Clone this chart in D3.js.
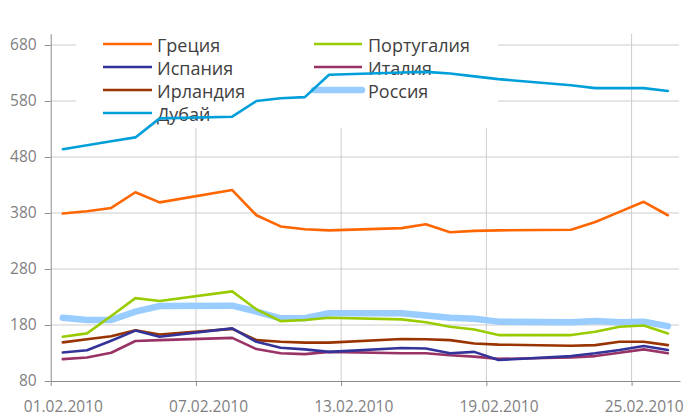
<!DOCTYPE html>
<html><head><meta charset="utf-8">
<script src="https://cdn.jsdelivr.net/npm/d3@7"></script>
<style>
html,body{margin:0;padding:0;background:#fff;}
svg{display:block;font-family:"Open Sans",sans-serif;}
</style></head>
<body><svg id="c" width="686" height="416"></svg>
<script>
const days = [1,2,3,4,5,8,9,10,11,12,15,16,17,18,19,22,23,24,25,26];
const greece   = [379,383,389,417,399,421,376,356,351,349,353,360,345.5,348,349,350,364,382,400,376];
const portugal = [159,165,196,228,223,240,208,187,189,193,190,185,177,172,162,162,168,177,179,165];
const spain    = [131,135,152,170,159,174,150,139.5,136.5,132,139,138,129.5,132,117.5,124.5,129.5,135.5,142.5,135.5];
const italy    = [119,122,130.5,151.5,153,157,137,129.5,128,132,129.5,129.5,126,123.5,119.5,122,124.5,130.5,136.5,129.5];
const ireland  = [149,154.5,160,170.5,163,173,153,150,148.5,148.5,155,154.5,153,147,145,143,144,150,150,144];
const russia   = [193,189,189,204,214,214.5,204,192,192,201,201,197,193,191,186,185,187,185,186,178];
const dubai    = [494,501,508,515,549,552,580,585,587,627,631,632,629,624,619,608,603,603,603,598];
const seriesNames = ["Греция","Португалия","Испания","Италия","Ирландия","Россия","Дубай"];
const yTicks = [80,180,280,380,480,580,680];
const xTickDays = [1,7,13,19,25];

const colors = {"Греция":"#ff6600","Португалия":"#99cc00","Испания":"#333399","Италия":"#993366","Ирландия":"#993300","Россия":"#99ccff","Дубай":"#009fda"};
const widths = {"Россия":6.5};
const valuesBy = {"Греция":greece,"Португалия":portugal,"Испания":spain,"Италия":italy,"Ирландия":ireland,"Россия":russia,"Дубай":dubai};

const svg = d3.select("#c");
const dayStart = d => new Date(2010,1,d);
const dayMid = d => new Date(2010,1,d,12);
const x = d3.scaleTime().domain([dayStart(1), dayStart(27)]).range([50.7, 680]);
const y = d3.scaleLinear().domain([80,700]).range([381, 33.8]);

// gridlines
const g = svg.append("g");
g.selectAll("line.h").data(yTicks.slice(1)).join("line")
  .attr("x1",x.range()[0]).attr("x2",679).attr("y1",d=>y(d)).attr("y2",d=>y(d))
  .attr("stroke","#cccccc").attr("stroke-width",1);
g.selectAll("line.v").data(xTickDays.slice(1)).join("line")
  .attr("x1",d=>x(dayStart(d))).attr("x2",d=>x(dayStart(d))).attr("y1",y(700)).attr("y2",y(80))
  .attr("stroke","#cccccc").attr("stroke-width",1);

// legend background
svg.append("rect").attr("x",76).attr("y",28).attr("width",422).attr("height",100).attr("fill","#fff");

// axes
const yAxis = svg.append("g").attr("transform",`translate(${x.range()[0]},0)`)
  .call(d3.axisLeft(y).tickValues(yTicks).tickSizeInner(6).tickSizeOuter(0).tickPadding(8));
const xAxis = svg.append("g").attr("transform",`translate(0,${y(80)})`)
  .call(d3.axisBottom(x).tickValues(xTickDays.map(dayStart)).tickFormat(d3.timeFormat("%d.%m.%Y"))
    .tickSizeInner(5).tickSizeOuter(0).tickPadding(15));
xAxis.selectAll("text").attr("dx", x(dayMid(1)) - x(dayStart(1)));
[yAxis,xAxis].forEach(a=>{
  a.select(".domain").attr("stroke","#8c8c8c");
  a.selectAll(".tick line").attr("stroke","#8c8c8c");
  a.selectAll("text").attr("fill","#7f7f7f").style("font-size","15.5px").style("font-family","'Open Sans',sans-serif");
});

// legend
const legendCols = [["Греция","Испания","Ирландия","Дубай"],["Португалия","Италия","Россия"]];
const colX = [[103,152,157],[314,362,368]];
const lg = svg.append("g");
legendCols.forEach((col,ci)=>{
  col.forEach((name,ri)=>{
    const cy = 44 + ri*23;
    lg.append("line").attr("x1",colX[ci][0]).attr("x2",colX[ci][1]).attr("y1",cy).attr("y2",cy)
      .attr("stroke",colors[name]).attr("stroke-width",widths[name]||2.6).attr("stroke-linecap",name==="Россия"?"round":"butt");
    lg.append("text").attr("x",colX[ci][2]).attr("y",cy+8.3).text(name)
      .attr("fill","#404040").style("font-size","18px");
  });
});

// series
const line = d3.line().x((v,i)=>x(dayMid(days[i]))).y(v=>y(v));
const drawOrder = ["Россия","Португалия","Италия","Ирландия","Испания","Греция","Дубай"];
drawOrder.forEach(name=>{
  svg.append("path").datum(valuesBy[name]).attr("d",line)
    .attr("fill","none").attr("stroke",colors[name]).attr("stroke-width",widths[name]||2.6)
    .attr("stroke-linejoin","round").attr("stroke-linecap","round");
});
</script></body></html>
